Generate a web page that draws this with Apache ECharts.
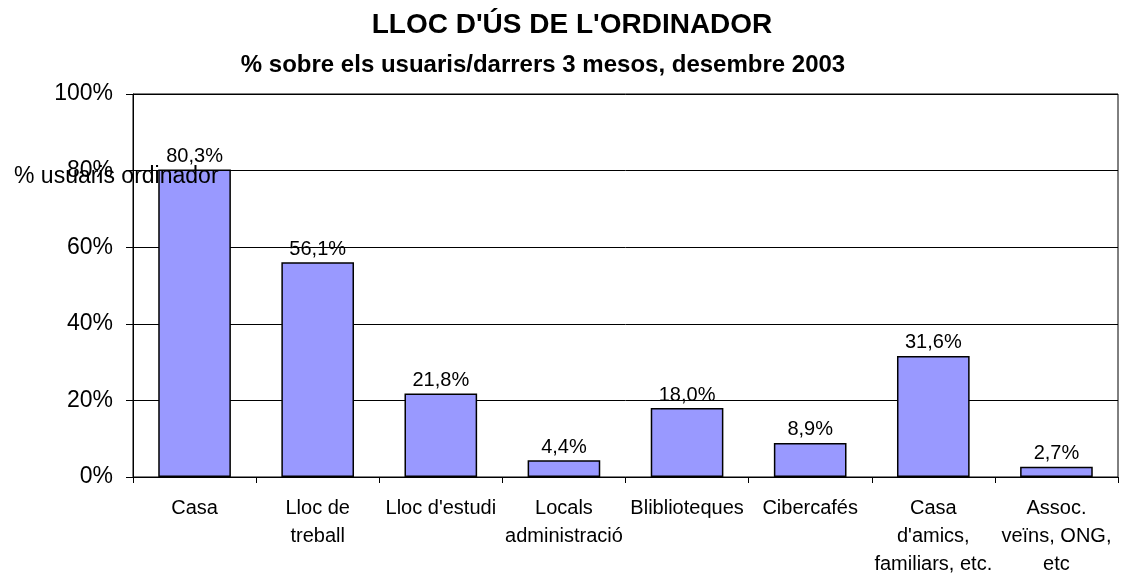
<!DOCTYPE html>
<html>
<head>
<meta charset="utf-8">
<script src="https://cdn.jsdelivr.net/npm/echarts@6/dist/echarts.min.js"></script>
<style>
  html, body { margin: 0; padding: 0; background: #fff; }
  #chart { width: 1122px; height: 574px; }
</style>
</head>
<body>
<div id="chart"></div>
<script>
var category = ['Casa', 'Lloc de\ntreball', "Lloc d'estudi", 'Locals\nadministració',
    'Bliblioteques', 'Cibercafés', "Casa\nd'amics,\nfamiliars, etc.", 'Assoc.\nveïns, ONG,\netc'];
var barData = [80.3, 56.1, 21.8, 4.4, 18.0, 8.9, 31.6, 2.7];
var yTicks = [0, 20, 40, 60, 80, 100];

var titleText = "LLOC D'ÚS DE L'ORDINADOR";
var subText = '% sobre els usuaris/darrers 3 mesos, desembre 2003';
var yName = '% usuaris ordinador';

var font = '"Liberation Sans", Arial, sans-serif';

var dom = document.getElementById('chart');
var myChart = echarts.init(dom);

var option = {
    animation: false,
    backgroundColor: '#fff',
    title: [
        {
            text: titleText,
            left: 567,
            top: 6,
            textAlign: 'center',
            textStyle: { color: '#000', fontFamily: font, fontSize: 28, fontWeight: 'bold', lineHeight: 28 }
        },
        {
            text: subText,
            left: 538,
            top: 48,
            textAlign: 'center',
            textStyle: { color: '#000', fontFamily: font, fontSize: 24, fontWeight: 'bold', lineHeight: 24 }
        }
    ],
    graphic: [
        {
            type: 'text',
            left: 14,
            top: 165,
            z: 100,
            style: { text: yName, fill: '#000', font: '23px ' + font }
        }
    ],
    grid: {
        left: 133,
        right: 4,
        top: 94,
        bottom: 97,
        outerBoundsMode: 'none',
        show: true,
        borderColor: '#000',
        borderWidth: 1
    },
    xAxis: {
        type: 'category',
        data: category,
        axisLine: { lineStyle: { color: '#000', width: 1 } },
        axisTick: { show: true, length: 6, lineStyle: { color: '#000' } },
        axisLabel: {
            interval: 0,
            hideOverlap: false,
            color: '#000',
            fontFamily: font,
            fontSize: 20,
            lineHeight: 28,
            margin: 17
        }
    },
    yAxis: {
        type: 'value',
        min: 0,
        max: 100,
        interval: 20,
        axisLine: { show: true, lineStyle: { color: '#000', width: 1 } },
        axisTick: { show: true, length: 7, lineStyle: { color: '#000' } },
        splitLine: { show: true, lineStyle: { color: '#000', width: 1 } },
        axisLabel: {
            formatter: function (v) { return yTicks.indexOf(v) >= 0 ? v + '%' : ''; },
            color: '#000',
            fontFamily: font,
            fontSize: 23,
            margin: 20
        }
    },
    series: [
        {
            name: 'usuaris',
            type: 'bar',
            data: barData,
            barWidth: '59%',
            itemStyle: {
                color: '#9999FF',
                borderColor: '#000',
                borderWidth: 1.5
            },
            label: {
                show: true,
                position: 'top',
                distance: 3,
                color: '#000',
                fontFamily: font,
                fontSize: 20,
                formatter: function (p) { return p.value.toFixed(1).replace('.', ',') + '%'; }
            }
        }
    ]
};
myChart.setOption(option, true);
window.onresize = myChart.resize;
</script>
</body>
</html>
